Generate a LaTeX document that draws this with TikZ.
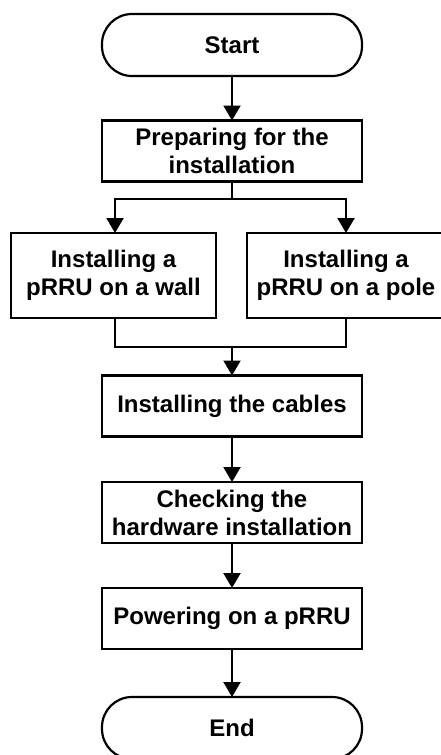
\documentclass[tikz,border=0pt]{standalone}
\usepackage{fontspec}
\setmainfont{Liberation Sans}
\usetikzlibrary{arrows.meta}
\begin{document}
\begin{tikzpicture}[x=1pt,y=-1pt,
  box/.style={draw,line width=2.2pt,minimum width=260pt,minimum height=61pt,inner sep=0pt,outer sep=0pt,align=center,font=\fontsize{24}{28}\selectfont\bfseries},
  term/.style={box,rounded corners=30pt,minimum height=62pt},
  conn/.style={line width=2.2pt},
  arr/.style={conn,-{Triangle[width=17pt,length=15pt]}}]
\useasboundingbox (0,0) rectangle (441,755);
\node[term] (start) at (232,45) {Start};
\node[box] (prep) at (232,151) {Preparing for the\\installation};
\node[box,minimum width=205pt,minimum height=85pt] (wall) at (113.5,275.5) {Installing a\\pRRU on a wall};
\node[box,minimum width=198pt,minimum height=85pt] (pole) at (346,275.5) {Installing a\\pRRU on a pole};
\node[box] (cables) at (232,406) {Installing the cables};
\node[box] (check) at (232,512.5) {Checking the\\hardware installation};
\node[box] (power) at (232,618.5) {Powering on a pRRU};
\node[term] (end) at (232,728) {End};
\coordinate (split) at (232,199);
\coordinate (join) at (232,347);
\draw[arr] (start) -- (prep);
\draw[conn] (prep) -- (split);
\draw[arr] (split) -| (wall.north -| 115,0);
\draw[arr] (split) -| (pole.north -| 346,0);
\draw[conn] (wall.south -| 115,0) |- (join);
\draw[conn] (pole.south -| 346,0) |- (join);
\draw[arr] (join) -- (cables);
\draw[arr] (cables) -- (check);
\draw[arr] (check) -- (power);
\draw[arr] (power) -- (end);
\end{tikzpicture}
\end{document}
